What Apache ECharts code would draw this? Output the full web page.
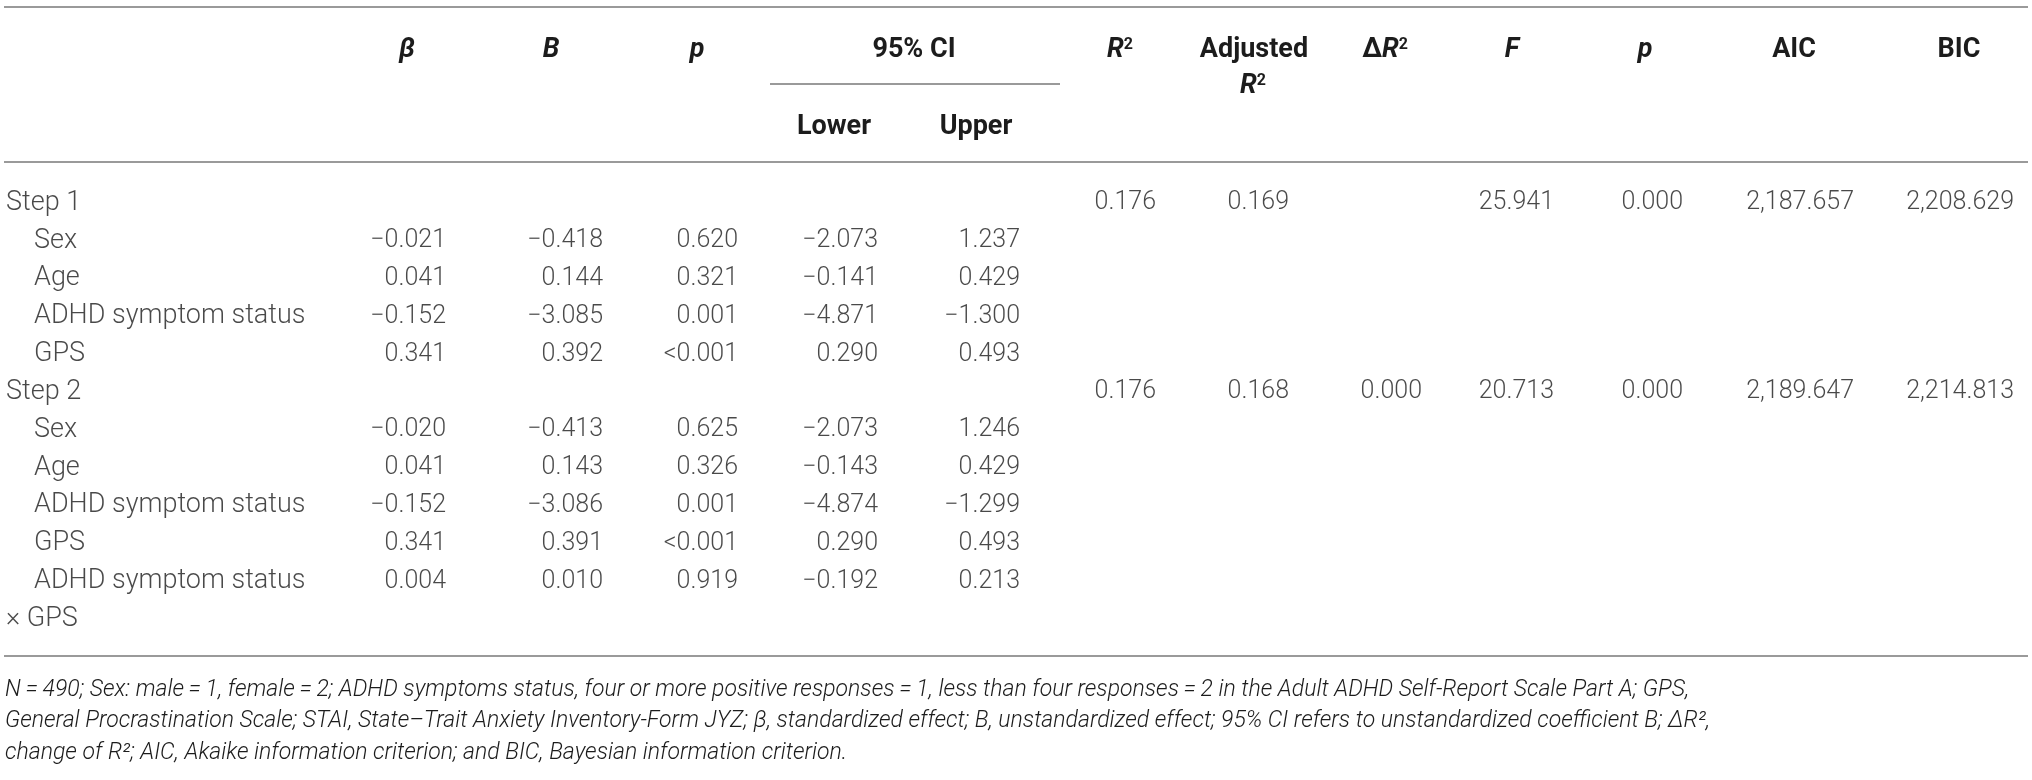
<!DOCTYPE html>
<html>
<head>
<meta charset="utf-8">
<script src="https://cdn.jsdelivr.net/npm/echarts@6/dist/echarts.min.js"></script>
<style>
  html, body { margin: 0; padding: 0; background: #fff; }
  #table { width: 2032px; height: 780px; }
</style>
</head>
<body>
<div id="table"></div>
<script>
// table rows (first column)
var rowLabels = ['Step 1', 'Sex', 'Age', 'ADHD symptom status', 'GPS',
                 'Step 2', 'Sex', 'Age', 'ADHD symptom status', 'GPS',
                 'ADHD symptom status', '\u00d7 GPS'];
var rowIndent = [0, 1, 1, 1, 1, 0, 1, 1, 1, 1, 1, 0];

// coefficient columns, one entry per row ('' = empty cell)
var beta    = ['', '\u22120.021', '0.041', '\u22120.152', '0.341', '', '\u22120.020', '0.041', '\u22120.152', '0.341', '0.004', ''];
var bCoef   = ['', '\u22120.418', '0.144', '\u22123.085', '0.392', '', '\u22120.413', '0.143', '\u22123.086', '0.391', '0.010', ''];
var pCoef   = ['', '0.620', '0.321', '0.001', '<0.001', '', '0.625', '0.326', '0.001', '<0.001', '0.919', ''];
var ciLower = ['', '\u22122.073', '\u22120.141', '\u22124.871', '0.290', '', '\u22122.073', '\u22120.143', '\u22124.874', '0.290', '\u22120.192', ''];
var ciUpper = ['', '1.237', '0.429', '\u22121.300', '0.493', '', '1.246', '0.429', '\u22121.299', '0.493', '0.213', ''];

// model statistics, only on the step rows
var stepRows  = [0, 5];
var rSquared  = ['0.176', '0.176'];
var adjRSq    = ['0.169', '0.168'];
var deltaRSq  = ['', '0.000'];
var fStat     = ['25.941', '20.713'];
var pModel    = ['0.000', '0.000'];
var aicVals   = ['2,187.657', '2,189.647'];
var bicVals   = ['2,208.629', '2,214.813'];

var noteLines = [
  'N\u2009=\u2009490; Sex: male\u2009=\u20091, female\u2009=\u20092; ADHD symptoms status, four or more positive responses\u2009=\u20091, less than four responses\u2009=\u20092 in the Adult ADHD Self-Report Scale Part A; GPS,',
  'General Procrastination Scale; STAI, State\u2013Trait Anxiety Inventory-Form JYZ; \u03b2, standardized effect; B, unstandardized effect; 95% CI refers to unstandardized coefficient B; \u0394R\u00b2,',
  'change of R\u00b2; AIC, Akaike information criterion; and BIC, Bayesian information criterion.'
];

// layout
var W = 2032;
var FONT = 'Roboto, "Liberation Sans", sans-serif';
var TXT = '#1c1c1c';
var RULE = '#9a9a9a';
var colRight = [446, 603, 738, 878, 1020, 1156, 1289, 1422, 1554, 1683, 1854, 2014];
var indentX = [6, 34];

var chart = echarts.init(document.getElementById('table'), null, { renderer: 'canvas' });

function cellSeries(name, x, cells, rows, align, size) {
  var data = [];
  cells.forEach(function (t, i) {
    if (t !== '') data.push([x, rows ? rows[i] : i, t]);
  });
  return {
    name: name,
    type: 'scatter',
    symbolSize: 0,
    silent: true,
    data: data,
    label: {
      show: true,
      position: 'inside',
      align: align || 'right',
      verticalAlign: 'middle',
      fontFamily: FONT,
      fontWeight: 300,
      fontSize: size || 25,
      color: TXT,
      formatter: function (p) { return p.value[2]; }
    }
  };
}

var series = [
  cellSeries('beta', colRight[0], beta),
  cellSeries('B', colRight[1], bCoef),
  cellSeries('p', colRight[2], pCoef),
  cellSeries('lower', colRight[3], ciLower),
  cellSeries('upper', colRight[4], ciUpper),
  cellSeries('r2', colRight[5], rSquared, stepRows),
  cellSeries('adj', colRight[6], adjRSq, stepRows),
  cellSeries('dr2', colRight[7], deltaRSq, stepRows),
  cellSeries('F', colRight[8], fStat, stepRows),
  cellSeries('pm', colRight[9], pModel, stepRows),
  cellSeries('aic', colRight[10], aicVals, stepRows),
  cellSeries('bic', colRight[11], bicVals, stepRows)
];
// first column: labels with indentation
[0, 1].forEach(function (lvl) {
  var cells = rowLabels.map(function (t, i) { return rowIndent[i] === lvl ? t : ''; });
  series.push(cellSeries('label' + lvl, indentX[lvl], cells, null, 'left', 27));
});

var richHead = {
  bi: { fontFamily: FONT, fontWeight: 'bold', fontStyle: 'italic', fontSize: 27, color: TXT },
  b: { fontFamily: FONT, fontWeight: 'bold', fontSize: 27, color: TXT },
  sup: { fontFamily: FONT, fontWeight: 'bold', fontSize: 16, color: TXT, verticalAlign: 'top', padding: [0, 0, 11, 0] }
};
function head(x, y, text) {
  return {
    type: 'text', x: x, y: y, silent: true,
    style: {
      text: text, align: 'center', verticalAlign: 'middle',
      font: 'bold 27px ' + FONT, fill: TXT, rich: richHead
    }
  };
}
function rule(x1, x2, y) {
  return { type: 'line', silent: true, shape: { x1: x1, y1: y, x2: x2, y2: y }, style: { stroke: RULE, lineWidth: 2 } };
}

var graphics = [
  rule(4, 2028, 7),
  rule(770, 1060, 84),
  rule(4, 2028, 162),
  rule(4, 2028, 656),
  head(407, 50, '{bi|\u03b2}'),
  head(551, 50, '{bi|B}'),
  head(697, 50, '{bi|p}'),
  head(914, 50, '{b|95% CI}'),
  head(834, 127, '{b|Lower}'),
  head(976, 127, '{b|Upper}'),
  head(1120, 50, '{bi|R}{sup|2}'),
  head(1254, 50, '{b|Adjusted}'),
  head(1253, 86, '{bi|R}{sup|2}'),
  head(1385, 50, '{b|\u0394}{bi|R}{sup|2}'),
  head(1512, 50, '{bi|F}'),
  head(1645, 50, '{bi|p}'),
  head(1794, 50, '{b|AIC}'),
  head(1959, 50, '{b|BIC}')
];
noteLines.forEach(function (t, i) {
  graphics.push({
    type: 'text', x: 5, y: 690 + i * 31.5, silent: true,
    style: {
      text: t, align: 'left', verticalAlign: 'middle',
      font: 'italic 300 23px ' + FONT, fill: TXT
    }
  });
});

chart.setOption({
  animation: false,
  grid: { left: 0, top: 184, width: W, height: 454 },
  xAxis: { type: 'value', min: 0, max: W, show: false },
  yAxis: { type: 'category', inverse: true, data: rowLabels.map(function (t, i) { return i; }), show: false },
  series: series,
  graphic: graphics
});
</script>
</body>
</html>
